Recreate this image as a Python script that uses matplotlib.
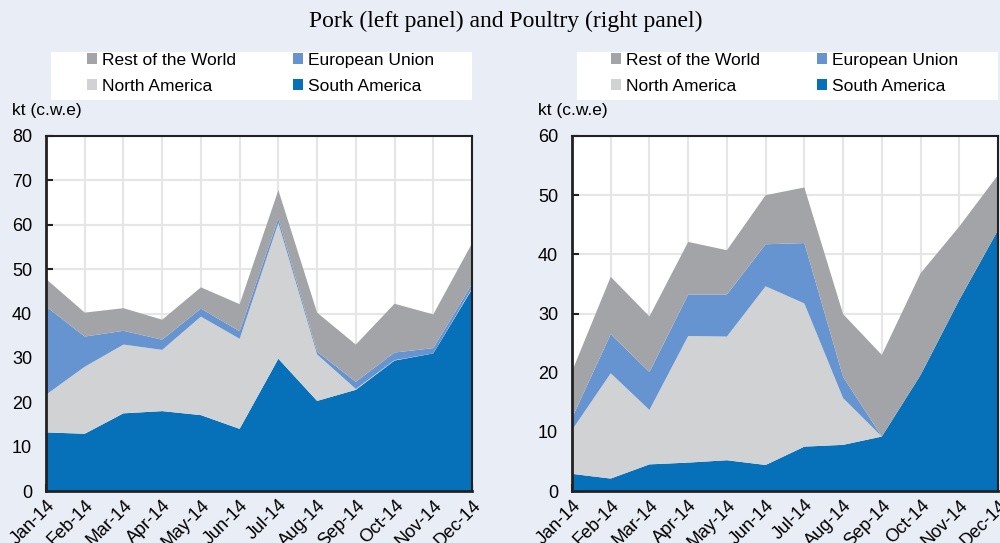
import matplotlib.pyplot as plt
from matplotlib.patches import Rectangle

months = ["Jan-14", "Feb-14", "Mar-14", "Apr-14", "May-14", "Jun-14",
          "Jul-14", "Aug-14", "Sep-14", "Oct-14", "Nov-14", "Dec-14"]

# pork (left panel), kt c.w.e, per origin
pork_sa = [13.2, 12.9, 17.5, 18.0, 17.1, 14.0, 29.8, 20.3, 22.8, 29.4, 31.0, 45.5]
pork_na = [8.5, 15.1, 15.5, 13.8, 22.2, 20.3, 30.6, 10.5, 0.2, 0.1, 0.0, 0.2]
pork_eu = [19.9, 6.8, 3.1, 2.3, 1.8, 1.7, 1.0, 0.6, 1.6, 1.7, 1.2, 0.9]
pork_row = [6.2, 5.4, 5.1, 4.5, 4.8, 6.1, 6.4, 8.8, 8.4, 11.0, 7.6, 9.2]

# poultry (right panel)
poul_sa = [2.9, 2.1, 4.5, 4.8, 5.2, 4.4, 7.5, 7.8, 9.2, 19.6, 32.3, 44.1]
poul_na = [7.4, 17.8, 9.2, 21.4, 20.9, 30.2, 24.2, 7.9, 0.0, 0.0, 0.0, 0.0]
poul_eu = [2.0, 6.6, 6.4, 7.0, 7.1, 7.1, 10.2, 3.6, 0.0, 0.0, 0.0, 0.0]
poul_row = [7.9, 9.7, 9.4, 8.9, 7.5, 8.3, 9.4, 10.6, 13.8, 17.2, 12.4, 9.3]

labels = ["South America", "North America", "European Union", "Rest of the World"]
colors = ["#0671b9", "#d1d2d4", "#6594d0", "#a3a4a7"]
bg = "#e9edf6"

plt.rcParams['font.family'] = ['Liberation Sans', 'DejaVu Sans']

fig = plt.figure(figsize=(10, 5.43), dpi=100, facecolor=bg)
W, H = 1000, 543

fig.text(0.506, 1 - 21 / H, "Pork (left panel) and Poultry (right panel)",
         ha="center", va="center", fontsize=17, family="Liberation Serif")


def panel(x0, data, ymax, leg_x):
    ax = fig.add_axes([x0 / W, 52 / H, 426 / W, 355 / H])
    x = list(range(len(months)))
    polys = ax.stackplot(x, *data, colors=colors, linewidth=0, zorder=2)
    ax.set_xlim(0, len(months) - 1)
    ax.set_ylim(0, ymax)
    ax.set_yticks(range(0, ymax + 1, 10))
    ax.set_xticks(x)
    ax.set_xticklabels(months, rotation=45, ha="right", rotation_mode="anchor")
    ax.grid(True, color="#e6e6e6", linewidth=1.5, zorder=0)
    ax.set_axisbelow(True)
    ax.tick_params(direction="in", length=5, width=1.5, labelsize=13, color="#222222")
    ax.tick_params(axis="y", pad=10)
    ax.tick_params(axis="x", pad=4)
    for s in ax.spines.values():
        s.set_linewidth(1.5)
        s.set_color("#222222")
    ax.spines["left"].set_linewidth(2)
    ax.spines["bottom"].set_linewidth(2)
    ax.text(x0 / W - 34 / W, 1 - 110 / H, "kt (c.w.e)", transform=fig.transFigure,
            ha="left", va="center", fontsize=12.5)
    # legend box
    fig.patches.append(Rectangle(((x0 + 5) / W, 1 - 100 / H), 421 / W, 48 / H,
                                 transform=fig.transFigure, facecolor="white",
                                 edgecolor="none", zorder=0))
    order = [3, 1, 2, 0]
    fig.legend([polys[i] for i in order], [labels[i] for i in order],
               loc="upper left", bbox_to_anchor=(leg_x / W, 1 - 53 / H),
               ncol=2, frameon=False, fontsize=12.5, handlelength=0.6,
               handleheight=0.6, handletextpad=0.25, columnspacing=3.3,
               labelspacing=0.62, borderpad=0, borderaxespad=0)
    return ax


panel(46, [pork_sa, pork_na, pork_eu, pork_row], 80, 87)
panel(572, [poul_sa, poul_na, poul_eu, poul_row], 60, 611)

fig.savefig("out.png", dpi=100, facecolor=bg)
